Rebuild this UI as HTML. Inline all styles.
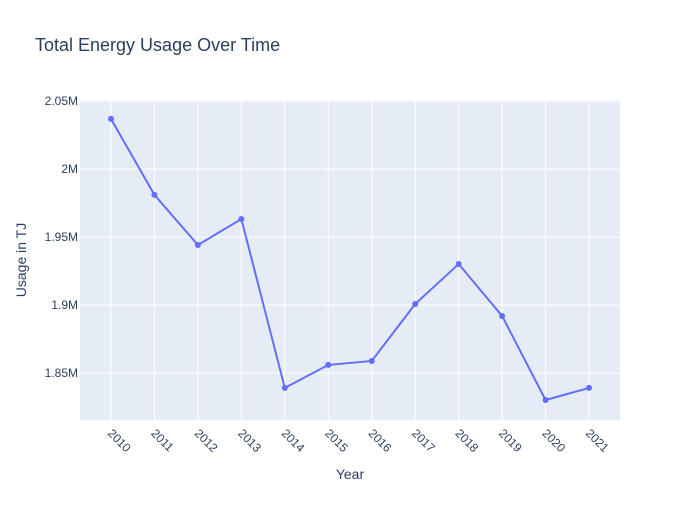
<!DOCTYPE html>
<html><head><meta charset="utf-8"><style>
body{margin:0;background:#fff;font-family:"Liberation Sans",sans-serif;}
svg text{fill:#2a3f5f;}
</style></head><body>
<svg id="chart" width="700" height="500">
<rect width="700" height="500" fill="#fff"/>
<text x="35" y="51" font-size="18">Total Energy Usage Over Time</text>
<rect x="80" y="100" width="540" height="320" fill="#e5ecf6"/>
<g id="grid"></g><g id="series"></g><g id="ticks"></g>
<text x="350" y="479" font-size="14" text-anchor="middle">Year</text>
<text transform="translate(26,260) rotate(-90)" font-size="14" text-anchor="middle">Usage in TJ</text>
</svg>
<script>
const years=[2010,2011,2012,2013,2014,2015,2016,2017,2018,2019,2020,2021];
const usage=[2036800,1980900,1944100,1963200,1839000,1855900,1858800,1900700,1930100,1891900,1830100,1839000];
const yTicks=[1850000,1900000,1950000,2000000,2050000];
const yTickLabels=["1.85M","1.9M","1.95M","2M","2.05M"];
const ns="http://www.w3.org/2000/svg";
const X0=80,X1=620,Y0=420,Y1=100;
const xMin=2010-0.713,xMax=2021+0.713,yMin=1815400,yMax=2050700;
const sx=v=>X0+(v-xMin)/(xMax-xMin)*(X1-X0);
const sy=v=>Y0-(v-yMin)/(yMax-yMin)*(Y0-Y1);
function mk(t,a,p){const e=document.createElementNS(ns,t);for(const k in a)e.setAttribute(k,a[k]);p.appendChild(e);return e;}
const grid=document.getElementById('grid'),ser=document.getElementById('series'),tk=document.getElementById('ticks');
yTicks.forEach((v,i)=>{
 const l=mk('line',{x1:X0,x2:X1,y1:sy(v),y2:sy(v),stroke:'#fff','stroke-width':1},grid);
 
 
 const t=mk('text',{x:X0-2,y:sy(v)+4,'font-size':12,'text-anchor':'end'},tk);
 t.textContent=yTickLabels[i];
 
 
});
years.forEach(y=>{
 const l=mk('line',{x1:sx(y),x2:sx(y),y1:Y1,y2:Y0,stroke:'#fff','stroke-width':1},grid);
 
 
 const x=sx(y)-4,yy=434;
 const t=mk('text',{x:x,y:yy,'font-size':12,transform:`rotate(45 ${x} ${yy})`},tk);
 t.textContent=y;
 
 
});
const p=mk('polyline',{points:years.map((y,i)=>sx(y)+','+sy(usage[i])).join(' '),fill:'none',stroke:'#636efa','stroke-width':2},ser);


years.forEach((y,i)=>{
 const c=mk('circle',{cx:sx(y),cy:sy(usage[i]),r:3,fill:'#636efa'},ser);
 
 
});
</script>
</body></html>
